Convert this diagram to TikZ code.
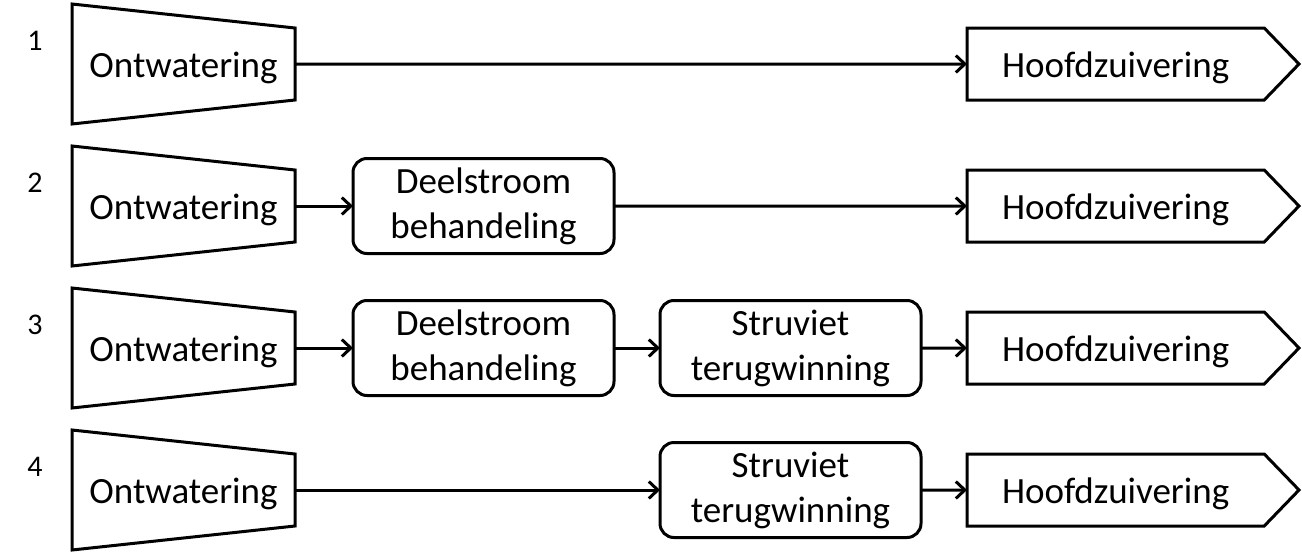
\documentclass[tikz,border=0pt]{standalone}
\usepackage{fontspec}
\setmainfont{Carlito}
\usetikzlibrary{positioning,shapes.symbols,arrows.meta}

\begin{document}
\begin{tikzpicture}[x=1pt,y=-1pt,line width=3pt,font=\fontsize{37}{45}\selectfont,
  every node/.style={outer sep=0pt},
  ontw/.style={minimum width=223pt,minimum height=72pt,inner sep=0pt,text height=32pt,text depth=6pt},
  proces/.style={draw,rounded corners=14pt,minimum width=261pt,minimum height=95pt,align=center,inner sep=0pt},
  hoofd/.style={draw,signal,signal to=east,signal pointer angle=92,minimum width=332pt,minimum height=72pt,inner sep=0pt,text height=32pt,text depth=6pt},
  nr/.style={font=\fontsize{30}{36}\selectfont},
  pijl/.style={-{Straight Barb[length=9pt,width=17pt]}}]
\useasboundingbox (0,0) rectangle (1302,552);
\node [ontw] (o1) at (183.5,64) {Ontwatering};
\node [ontw, below=70pt of o1] (o2) {Ontwatering};
\node [ontw, below=70pt of o2] (o3) {Ontwatering};
\node [ontw, below=70pt of o3] (o4) {Ontwatering};
\node [proces, right=58pt of o2] (d2) {Deelstroom\\behandeling};
\node [proces, right=58pt of o3] (d3) {Deelstroom\\behandeling};
\node [proces, right=46pt of d3] (s3) {Struviet\\terugwinning};
\node [proces, right=365pt of o4] (s4) {Struviet\\terugwinning};
\node [hoofd, right=672pt of o1] (h1) {Hoofdzuivering};
\node [hoofd, right=672pt of o2] (h2) {Hoofdzuivering};
\node [hoofd, right=46pt of s3] (h3) {Hoofdzuivering};
\node [hoofd, right=46pt of s4] (h4) {Hoofdzuivering};
\node [nr] (n1) at (35,41) {1};
\node [nr] (n2) at (35,183) {2};
\node [nr] (n3) at (35,325) {3};
\node [nr] (n4) at (35,467) {4};
% trapezia om de ontwatering
\foreach \o in {o1,o2,o3,o4}
  \draw (\o.north east) -- (\o.south east) -- ([yshift=-24pt]\o.south west) -- ([yshift=24pt]\o.north west) -- cycle;
\draw [pijl] (o1) -- (h1);
\draw [pijl] (o2) -- (d2);
\draw [pijl] (d2) -- (h2);
\draw [pijl] (o3) -- (d3);
\draw [pijl] (d3) -- (s3);
\draw [pijl] (s3) -- (h3);
\draw [pijl] (o4) -- (s4);
\draw [pijl] (s4) -- (h4);
\end{tikzpicture}
\end{document}
